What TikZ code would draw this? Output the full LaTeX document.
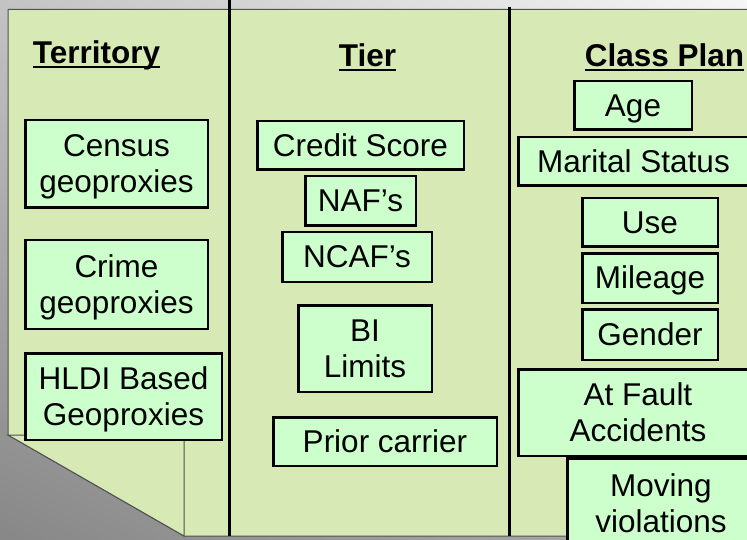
\documentclass[tikz,border=0pt]{standalone}
\usepackage{fontspec}
\usetikzlibrary{shadings}
\setmainfont{Liberation Sans}
\definecolor{panelgreen}{RGB}{215,233,181}
\definecolor{boxgreen}{RGB}{204,255,204}
\definecolor{edgegray}{RGB}{80,80,80}
\definecolor{bgll}{RGB}{135,135,135}
\definecolor{bgur}{RGB}{246,246,246}
\definecolor{bgul}{RGB}{195,195,195}
\definecolor{bglr}{RGB}{175,175,175}
\newcommand\ms{\rule[-7.1pt]{0pt}{35.6pt}}
\newcommand\bx[6]{\node[itembox, minimum width={(#4-#2-2.5)*1pt}, minimum height={(#5-#3-2.5)*1pt}] (#1) at ({(#2+#4)/2},{(#3+#5)/2}) {#6};}
\tikzset{
  itembox/.style={draw=black, line width=2.5pt, fill=boxgreen, align=center, inner sep=0pt,
    font=\fontsize{31.5}{35.6}\selectfont},
  header/.style={inner sep=0pt, anchor=base, font=\fontsize{31.5}{35.6}\selectfont\bfseries},
  uline/.style={line width=2pt},
  divider/.style={line width=3pt, black},
  paneledge/.style={draw=edgegray, line width=1pt}
}
\begin{document}
\begin{tikzpicture}[x=1pt,y=-1pt]
\useasboundingbox (0,0) rectangle (747,540);
\clip (0,0) rectangle (747,540);
% background
\shade[lower left=bgll, upper right=bgur, upper left=bgul, lower right=bglr] (0,0) rectangle (747,540);
% panel
\path[fill=panelgreen, paneledge] (8,9.5) -- (760,9.5) -- (760,536) -- (184,536) -- (8,435) -- cycle;
% folded flap
\path[fill=panelgreen, paneledge] (8,435) -- (184,435) -- (184,536) -- cycle;
% dividers
\draw[divider] (229.5,0) -- (229.5,536);
\draw[divider] (509,7) -- (509,536);
% headers
\node[header] (ter) at (96.5,64) {Territory};
\node[header] (tier) at (367.5,66.5) {Tier};
\node[header] (cls) at (664.5,66.5) {Class Plan};
\draw[uline] ([yshift=-3.5pt]ter.base west) -- ([yshift=-3.5pt]ter.base east);
\draw[uline] ([yshift=-3.5pt]tier.base west) -- ([yshift=-3.5pt]tier.base east);
\draw[uline] ([yshift=-3.5pt]cls.base west) -- ([yshift=-3.5pt]cls.base east);
% territory column
\bx{census}{24}{119}{209}{209}{\ms Census\\\ms geoproxies}
\bx{crime}{24}{239}{209}{330}{\ms Crime\\\ms geoproxies}
\bx{hldi}{24}{352}{223}{441}{\ms HLDI Based\\\ms Geoproxies}
% tier column
\bx{credit}{256}{120}{465}{171}{\ms Credit Score}
\bx{naf}{304}{175}{417}{227}{\ms NAF’s}
\bx{ncaf}{281}{231}{433}{283}{\ms NCAF’s}
\bx{bi}{297}{304}{433}{393}{\ms BI\\\ms Limits}
\bx{prior}{272}{416}{498}{467}{\ms Prior carrier}
% class plan column
\bx{age}{573}{80}{693}{131}{\ms Age}
\bx{marital}{517}{136}{750}{187}{\ms Marital Status}
\bx{use}{581}{197}{719}{248}{\ms Use}
\bx{mileage}{581}{252}{719}{304}{\ms Mileage}
\bx{gender}{581}{308}{719}{361}{\ms Gender}
\bx{moving}{566}{457}{756}{551}{\ms Moving\\\ms violations}
\bx{atfault}{517}{368}{759}{457}{\ms At Fault\\\ms Accidents}
\end{tikzpicture}
\end{document}
